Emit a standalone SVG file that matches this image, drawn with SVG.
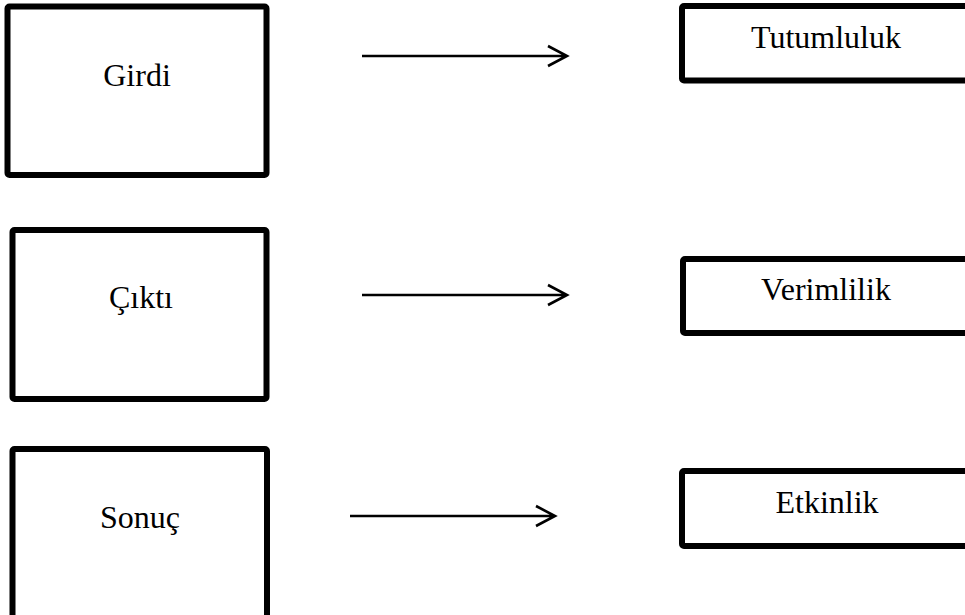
<svg xmlns="http://www.w3.org/2000/svg" width="965" height="615" viewBox="0 0 965 615">
<style>
.box{fill:#fff;stroke:#000;stroke-width:6;stroke-linejoin:round}
.lbl{font-family:"Liberation Serif","Times New Roman",serif;font-size:32px;fill:#000;text-anchor:middle}
.con{fill:none;stroke:#000;stroke-width:2.6;stroke-linecap:butt;stroke-linejoin:miter}
</style>
<rect width="965" height="615" fill="#fff"/>
<g id="girdi"><rect class="box" x="7.5" y="6.5" width="259" height="168.5" rx="2"/><text class="lbl" x="137" y="86">Girdi</text></g>
<g id="cikti"><rect class="box" x="12.5" y="230" width="254" height="169" rx="2"/><text class="lbl" x="141" y="308">Çıktı</text></g>
<g id="sonuc"><rect class="box" x="12.5" y="449" width="254.5" height="190" rx="2"/><text class="lbl" x="140" y="528">Sonuç</text></g>
<g id="tutumluluk"><rect class="box" x="682" y="6" width="320" height="74.5" rx="2"/><text class="lbl" x="826" y="48">Tutumluluk</text></g>
<g id="verimlilik"><rect class="box" x="683" y="259" width="320" height="74" rx="2"/><text class="lbl" x="826" y="300">Verimlilik</text></g>
<g id="etkinlik"><rect class="box" x="682" y="471" width="320" height="75" rx="2"/><text class="lbl" x="827" y="513">Etkinlik</text></g>
<g id="connectors">
<path class="con" d="M362 56H567M548 46L567 56L548 66"/>
<path class="con" d="M362 295H567M548 285L567 295L548 305"/>
<path class="con" d="M350 516H555M536 506L555 516L536 526"/>
</g>
</svg>
